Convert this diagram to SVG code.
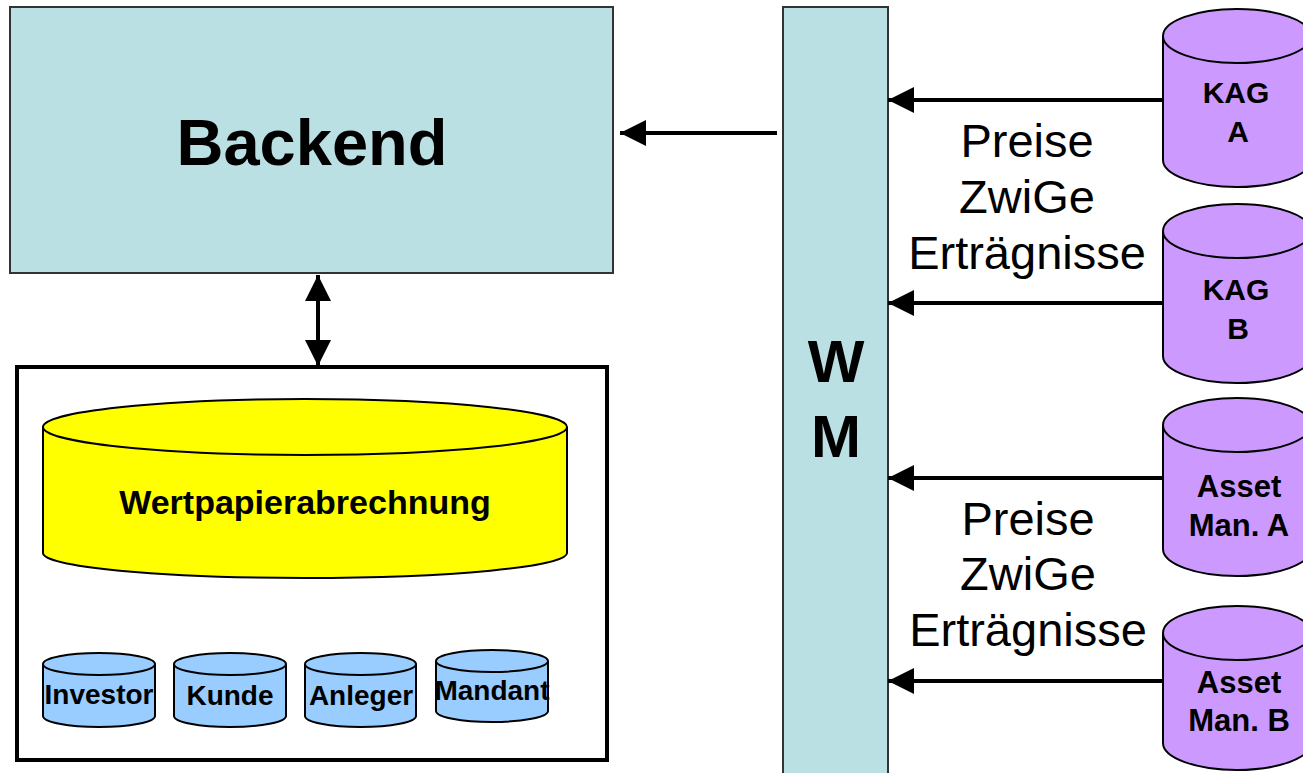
<svg xmlns="http://www.w3.org/2000/svg" width="1303" height="773" viewBox="0 0 1303 773">
<style>
.teal{fill:#BBE0E3;stroke:#333;stroke-width:2}
.cyl{stroke:#000;stroke-width:2}
.blue{fill:#99CCFF}
.purple{fill:#CC99FF}
.yellow{fill:#FFFF00}
.b{font-family:"Liberation Sans",Arial,sans-serif;font-weight:bold;text-anchor:middle;fill:#000}
.r{font-family:"Liberation Sans",Arial,sans-serif;text-anchor:middle;fill:#000;font-size:47px}
.ln{stroke:#000;stroke-width:4;fill:none}
</style>
<defs>
<marker id="ah" viewBox="0 0 26 26" refX="26" refY="13" markerWidth="26" markerHeight="26" markerUnits="userSpaceOnUse" orient="auto-start-reverse">
<path d="M0,0 L26,13 L0,26 Z" fill="#000"/>
</marker>
</defs>
<g id="backend">
<rect class="teal" x="10" y="7" width="603" height="266"/>
<text class="b" x="312" y="165" font-size="65">Backend</text>
</g>
<g id="wm">
<rect class="teal" x="783" y="7" width="105" height="780"/>
<text class="b" x="836" y="382" font-size="60">W</text>
<text class="b" x="836" y="457" font-size="60">M</text>
</g>
<g id="db-box">
<rect x="17" y="367" width="590" height="393" fill="#fff" stroke="#000" stroke-width="4"/>
</g>
<g id="wertpapier">
<path class="cyl yellow" d="M43,427 L43,553 A262,25 0 0 0 567,553 L567,427"/>
<ellipse class="cyl yellow" cx="305" cy="427" rx="262" ry="28"/>
<text class="b" x="305" y="514" font-size="34">Wertpapierabrechnung</text>
</g>
<g id="investor">
<path class="cyl blue" d="M43,664 L43,716 A56,11 0 0 0 155,716 L155,664"/>
<ellipse class="cyl blue" cx="99" cy="664" rx="56" ry="11"/>
<text class="b" x="99" y="704" font-size="28">Investor</text>
</g>
<g id="kunde">
<path class="cyl blue" d="M174,664 L174,716 A56,11 0 0 0 286,716 L286,664"/>
<ellipse class="cyl blue" cx="230" cy="664" rx="56" ry="11"/>
<text class="b" x="230" y="705" font-size="28">Kunde</text>
</g>
<g id="anleger">
<path class="cyl blue" d="M305,664 L305,716 A55.5,11 0 0 0 416,716 L416,664"/>
<ellipse class="cyl blue" cx="360.5" cy="664" rx="55.5" ry="11"/>
<text class="b" x="361" y="705" font-size="28">Anleger</text>
</g>
<g id="mandant">
<path class="cyl blue" d="M436,661 L436,711 A56,11 0 0 0 548,711 L548,661"/>
<ellipse class="cyl blue" cx="492" cy="661" rx="56" ry="11"/>
<text class="b" x="492" y="700" font-size="28">Mandant</text>
</g>
<g id="kag-a">
<path class="cyl purple" d="M1163,36 L1163,160 A74,27 0 0 0 1311,160 L1311,36"/>
<ellipse class="cyl purple" cx="1237" cy="36" rx="74" ry="27"/>
<text class="b" x="1236" y="103" font-size="30">KAG</text>
<text class="b" x="1238" y="142" font-size="30">A</text>
</g>
<g id="kag-b">
<path class="cyl purple" d="M1163,231 L1163,356 A74,27 0 0 0 1311,356 L1311,231"/>
<ellipse class="cyl purple" cx="1237" cy="231" rx="74" ry="27"/>
<text class="b" x="1236" y="300" font-size="30">KAG</text>
<text class="b" x="1238" y="339" font-size="30">B</text>
</g>
<g id="asset-a">
<path class="cyl purple" d="M1163,425 L1163,549 A74,27 0 0 0 1311,549 L1311,425"/>
<ellipse class="cyl purple" cx="1237" cy="425" rx="74" ry="27"/>
<text class="b" x="1239" y="497" font-size="31">Asset</text>
<text class="b" x="1239" y="536" font-size="31">Man. A</text>
</g>
<g id="asset-b">
<path class="cyl purple" d="M1163,633 L1163,743 A74,27 0 0 0 1311,743 L1311,633"/>
<ellipse class="cyl purple" cx="1237" cy="633" rx="74" ry="27"/>
<text class="b" x="1239" y="693" font-size="31">Asset</text>
<text class="b" x="1239" y="731" font-size="31">Man. B</text>
</g>
<g id="labels">
<text class="r" x="1027" y="157">Preise</text>
<text class="r" x="1027" y="213">ZwiGe</text>
<text class="r" x="1027" y="269">Erträgnisse</text>
<text class="r" x="1028" y="535">Preise</text>
<text class="r" x="1028" y="590">ZwiGe</text>
<text class="r" x="1028" y="646">Erträgnisse</text>
</g>
<g id="connectors">
<line class="ln" x1="777" y1="133" x2="620" y2="133" marker-end="url(#ah)"/>
<line class="ln" x1="318" y1="275" x2="318" y2="366" marker-start="url(#ah)" marker-end="url(#ah)"/>
<line class="ln" x1="1163" y1="100" x2="888" y2="100" marker-end="url(#ah)"/>
<line class="ln" x1="1163" y1="303" x2="888" y2="303" marker-end="url(#ah)"/>
<line class="ln" x1="1163" y1="478" x2="888" y2="478" marker-end="url(#ah)"/>
<line class="ln" x1="1163" y1="681" x2="888" y2="681" marker-end="url(#ah)"/>
</g>
</svg>
